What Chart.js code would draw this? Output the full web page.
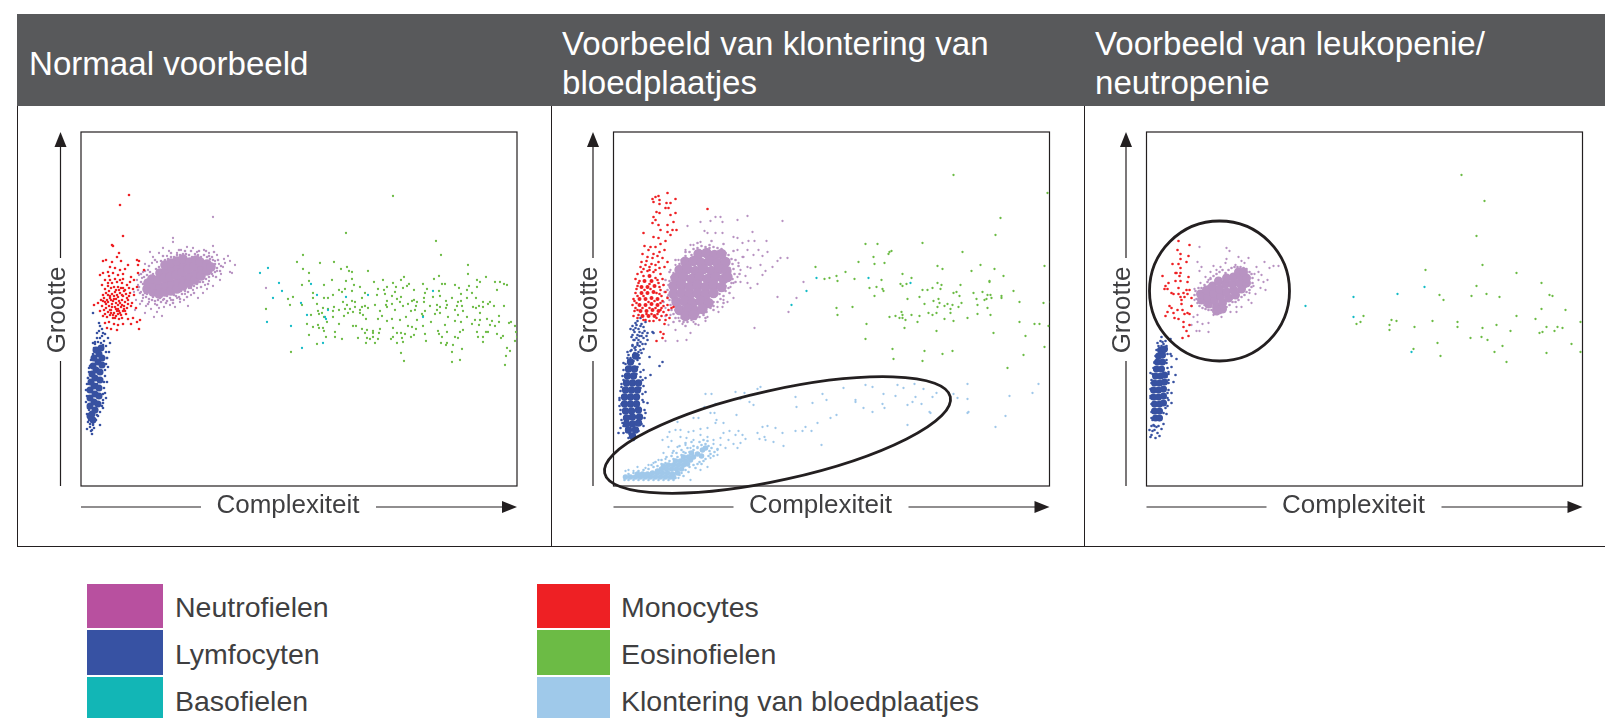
<!DOCTYPE html>
<html lang="nl">
<head>
<meta charset="utf-8">
<title>Voorbeelden scatterplots</title>
<script src="https://cdn.jsdelivr.net/npm/chart.js@4/dist/chart.umd.min.js"></script>
<style>
html, body { margin: 0; padding: 0; background: #fff; width: 1605px; height: 718px; overflow: hidden; font-family: "Liberation Sans", Arial, sans-serif; }
canvas { position: absolute; top: 107px; }
#header { position: absolute; left: 17px; top: 14px; width: 1588px; height: 92px; background: #58595b; }
.title { position: absolute; color: #fff; font-size: 33.1px; line-height: 39px; top: 3px; height: 92px; display: flex; align-items: center; }
#frame { position: absolute; left: 17px; top: 106px; width: 1588px; height: 440px; border-left: 1px solid #231f20; border-bottom: 1px solid #231f20; box-sizing: content-box; }
.sep { position: absolute; top: 106px; height: 441px; width: 1px; background: #231f20; }
.swatch { position: absolute; }
.legendText { position: absolute; color: #3f3f41; font-size: 28.5px; line-height: 32px; white-space: nowrap; }
</style>
</head>
<body>
<div id="header"></div>
<div id="frame"></div>
<div class="sep" style="left:551px"></div>
<div class="sep" style="left:1084px"></div>
<canvas id="chart1" width="532" height="439" style="left:18px"></canvas>
<canvas id="chart2" width="532" height="439" style="left:552px"></canvas>
<canvas id="chart3" width="520" height="439" style="left:1085px"></canvas>
<div id="legend"></div>
<script>
// Labels
const panelTitles = ["Normaal voorbeeld", "Voorbeeld van klontering van<br>bloedplaatjes", "Voorbeeld van leukopenie/<br>neutropenie"];
const xLabel = "Complexiteit";
const yLabel = "Grootte";
const legendNames = ["Neutrofielen", "Lymfocyten", "Basofielen", "Monocytes", "Eosinofielen", "Klontering van bloedplaatjes"];

// Normaal voorbeeld
const n1NeutroCore = [[66,197],[67,203],[72,194],[73,201],[71,207],[78,192],[79,199],[77,206],[79,213],[84,194],[85,201],[83,208],[85,215],[84,221],[90,195],[91,202],[89,209],[91,216],[90,223],[96,197],[97,204],[95,211],[97,218],[96,225],[102,200],[103,207],[101,214],[103,220],[102,227],[108,203],[109,210],[107,217],[109,224],[114,206],[115,213],[113,220],[115,226],[120,210],[121,217],[119,224],[126,215],[126,222],[130,219]];
const n1NeutroFill = [[60,204],[63,209],[66,211],[69,214],[72,212],[75,217],[78,219],[81,221],[80,225],[84,226],[87,227],[90,229],[93,229],[96,231],[99,231],[102,232],[105,232],[108,231],[111,229],[114,232],[117,231],[120,229],[123,231],[126,229],[129,227],[132,226],[131,229],[134,222],[128,230],[118,235],[104,235],[94,227],[86,224],[76,213],[68,209],[62,202],[62,191],[65,189],[68,187],[71,186],[74,185],[77,186],[80,184],[83,187],[86,185],[89,188],[92,186],[95,190],[98,189],[101,192],[104,195],[107,194],[110,198],[113,200],[116,202],[119,204],[122,204],[125,207],[128,209],[131,212],[134,214],[136,218],[64,193],[66,192],[72,189],[79,188],[86,190],[93,191],[100,195],[108,198],[116,206],[123,211],[130,214],[58,199],[59,193],[57,196],[61,185],[67,182],[76,181],[85,183],[92,183],[99,187],[106,189],[113,193],[120,199],[127,202],[135,209],[139,215],[140,220],[137,226],[133,234],[125,235],[110,235],[98,236],[90,233],[82,230],[74,226],[68,220],[64,215],[60,212]];
const n1Neutro = [[132,269],[92,248],[92,244],[69,234],[78,233],[82,238],[106,239],[112,238],[123,236],[132,240],[147,230],[149,225],[154,221],[144,223],[142,219],[149,214],[151,213],[139,206],[132,200],[122,193],[117,188],[107,180],[99,184],[89,181],[83,179],[81,170],[73,169],[76,174],[64,173],[59,182],[54,176],[55,186],[53,194],[57,201],[61,208],[62,214],[67,216],[71,223],[76,224],[86,230],[96,233],[100,236],[116,234],[128,233],[136,231],[134,225],[138,222],[136,215],[132,210],[128,205],[124,201],[116,198],[112,196],[104,192],[96,188],[90,186],[82,186],[74,182],[68,184],[62,188],[60,194],[65,180],[70,177],[78,178],[94,179],[103,186],[110,191],[126,197],[140,212],[143,227],[88,235],[72,229],[64,222],[58,211],[56,206],[185,198]];
const n1LymphCore = [[12,66],[9,70],[11,72],[14,76],[9,80],[13,84],[17,82],[9,88],[14,92],[18,90],[9,96],[13,100],[18,98],[10,104],[14,108],[19,106],[11,112],[15,116],[19,114],[12,120],[17,124],[21,121],[13,128],[18,132],[21,128],[15,136],[20,138]];
const n1LymphFill = [[6,72],[7,78],[5,84],[6,90],[5,96],[6,102],[7,108],[8,114],[9,120],[10,126],[12,132],[13,138],[14,142],[25,140],[25,134],[26,128],[25,122],[24,116],[24,110],[23,104],[23,98],[22,92],[22,86],[21,80],[19,74],[17,70],[15,66],[12,62],[9,62],[8,66],[13,58],[10,55],[16,76],[12,92],[16,102],[8,102],[17,144],[20,143],[23,145],[16,148],[21,150],[24,152],[18,155]];
const n1Lymph = [[18,163],[12,173],[19,160],[21,157],[16,153],[22,153],[27,148],[29,143],[14,144],[19,148],[22,141],[12,143],[28,134],[26,128],[27,119],[26,104],[24,93],[25,88],[22,78],[19,61],[11,52],[6,57],[9,59],[7,64],[12,61],[11,56],[6,96],[7,108],[8,118],[12,126],[14,134],[22,83],[16,71],[8,76],[10,68]];
const n1Mono = [[48,291],[39,281],[42,250],[31,241],[32,240],[38,233],[36,229],[22,225],[25,226],[31,224],[40,225],[56,226],[58,225],[57,221],[47,221],[29,219],[34,218],[39,216],[44,217],[57,213],[63,216],[19,211],[22,213],[27,214],[32,213],[37,211],[42,212],[50,209],[21,201],[24,206],[29,206],[34,207],[39,206],[46,201],[28,210],[36,204],[41,203],[49,204],[53,206],[24,197],[27,200],[31,203],[33,199],[37,199],[40,198],[44,196],[48,198],[52,197],[56,199],[22,191],[25,193],[28,195],[31,192],[34,194],[36,191],[39,193],[42,190],[45,192],[48,190],[53,191],[20,186],[23,188],[26,186],[29,188],[32,185],[35,187],[38,185],[41,186],[44,184],[47,186],[51,183],[13,181],[17,183],[21,180],[25,182],[28,180],[31,182],[34,179],[37,181],[40,179],[43,180],[46,178],[50,180],[55,178],[19,175],[23,176],[27,174],[30,176],[33,173],[36,175],[39,173],[42,175],[45,172],[22,170],[26,169],[29,171],[32,168],[35,170],[38,167],[41,168],[47,167],[52,168],[56,164],[59,166],[24,163],[28,164],[33,162],[37,161],[42,162],[50,162],[26,158],[30,157],[36,156],[58,157],[34,168],[30,186],[27,191],[37,177],[33,190],[43,195],[24,172],[30,198],[35,196],[38,196],[42,198],[29,190],[33,187],[37,189],[41,191],[46,188],[27,184],[31,179],[35,183],[39,183],[43,177],[47,182],[29,176],[35,177],[38,175],[41,181],[32,171],[37,172],[40,171],[44,175],[30,173],[25,178],[49,193],[24,184],[22,185],[27,203],[42,207]];
const n1Eos = [[312,290],[265,253],[355,245],[360,231],[222,231],[216,224],[239,223],[253,224],[222,217],[228,213],[260,217],[266,219],[268,215],[271,214],[287,215],[387,221],[387,212],[323,209],[320,206],[302,206],[293,204],[271,207],[265,205],[251,206],[228,205],[221,201],[243,201],[312,203],[328,202],[342,202],[353,207],[358,210],[361,202],[364,202],[374,201],[378,198],[388,200],[396,206],[405,209],[399,204],[414,204],[419,204],[423,202],[426,201],[416,196],[396,199],[386,196],[380,192],[391,193],[395,188],[402,184],[409,184],[413,180],[423,180],[407,182],
[258,196],[261,194],[264,197],[271,195],[273,201],[279,199],[284,193],[297,197],[296,191],[303,196],[306,199],[304,192],[314,194],[315,199],[322,198],[326,200],[333,196],[344,193],[346,197],[358,195],[359,190],[352,189],[343,188],[320,189],[311,190],[232,193],[212,189],[207,187],[209,181],[221,181],[232,188],[236,182],[243,188],[247,188],[252,191],
[262,184],[271,185],[274,184],[281,188],[306,185],[305,181],[316,187],[319,184],[311,182],[322,180],[327,182],[331,185],[333,186],[336,184],[335,180],[343,184],[349,180],[356,181],[359,179],[365,185],[366,181],[371,188],[377,184],[376,180],[380,185],[381,180],[386,188],[392,179],[395,178],[398,180],[402,179],[399,173],[382,175],[374,176],[365,178],[356,176],[359,173],[344,175],[334,176],[330,175],[314,176],[306,179],[299,175],[294,181],[287,178],[284,180],[281,179],[279,176],[274,179],[269,177],[266,181],[264,177],[258,176],[253,179],[252,175],[247,177],[242,178],[241,173],[237,175],[238,172],
[230,171],[243,169],[246,164],[252,169],[258,162],[263,170],[267,173],[272,174],[279,173],[285,167],[282,171],[297,167],[301,170],[306,165],[311,167],[319,166],[325,169],[336,166],[341,172],[342,170],[350,164],[354,172],[364,161],[367,169],[374,165],[377,171],[386,169],[380,164],[394,166],[399,166],[406,167],[411,165],[418,170],[418,164],[391,162],[398,161],[409,161],[414,160],[430,164],[428,163],[434,160],
[226,162],[232,159],[237,161],[238,158],[242,158],[243,155],[228,151],[245,149],[254,154],[254,149],[261,147],[236,142],[272,160],[275,160],[281,157],[286,156],[284,153],[292,155],[292,153],[299,157],[298,153],[277,148],[286,148],[289,147],[292,149],[297,147],[285,143],[294,143],[310,147],[312,149],[316,153],[312,158],[320,153],[324,152],[321,148],[322,144],[316,143],[330,149],[333,151],[327,160],[331,159],[335,157],[342,160],[344,152],[345,145],[357,155],[358,152],[361,149],[360,143],[365,141],[366,143],[372,141],[366,154],[374,149],[377,148],[379,154],[382,156],[396,154],[397,149],[402,149],[402,144],[405,154],[407,154],[416,152],[420,148],[422,150],[434,145],[435,154],[436,149],
[210,134],[320,133],[323,125],[371,134],[381,137],[371,124],[379,126],[426,138],[429,135],[425,130],[424,121],[185,177]];
const n1Baso = [[187,218],[179,213],[198,203],[201,195],[192,188],[230,202],[236,191],[220,183],[226,171],[244,169],[245,167],[247,176],[186,164],[210,160],[221,138],[242,143],[265,189],[287,191],[352,195],[342,169]];

// Voorbeeld van klontering van bloedplaatjes
const n2NeutroCore = [[85,232],[93,233],[101,231],[108,232],[72,224],[80,225],[88,223],[96,225],[104,223],[112,224],[66,216],[74,217],[82,215],[90,217],[98,215],[106,217],[113,215],[62,208],[70,209],[78,207],[86,209],[94,207],[102,209],[110,207],[114,209],[60,200],[68,201],[76,199],[84,201],[92,199],[100,201],[108,199],[60,192],[68,193],[76,191],[84,193],[92,191],[100,193],[63,184],[71,185],[79,183],[87,185],[95,183],[66,176],[74,177],[82,175],[89,177],[72,170],[80,171]];
const n2NeutroFill = [[58,209],[60,213],[63,218],[66,222],[69,227],[72,230],[76,234],[80,237],[84,238],[88,240],[92,239],[96,241],[100,239],[104,238],[108,237],[112,233],[115,231],[118,227],[119,222],[120,217],[121,212],[119,207],[118,203],[115,198],[112,195],[110,190],[107,187],[104,184],[100,180],[97,178],[93,174],[90,171],[86,169],[82,167],[78,166],[74,164],[70,164],[66,165],[62,168],[60,172],[58,176],[57,181],[56,186],[55,191],[54,196],[55,201],[56,205],[68,226],[64,212],[61,205],[58,195],[59,186],[62,176],[68,168],[76,169],[84,171],[92,178],[100,184],[106,192],[112,200],[116,208],[116,218],[112,228],[105,235],[96,238],[86,236],[78,231],[70,222],[122,226],[125,220],[126,212],[122,204],[116,193],[110,183],[100,176],[92,168],[82,162],[72,160],[60,164],[52,170],[50,184],[51,194],[52,206],[56,214],[62,226],[72,234],[84,243],[98,245],[110,242],[120,235]];
const n2Neutro = [[134,270],[169,265],[124,266],[107,269],[102,269],[97,265],[87,264],[109,264],[74,260],[91,255],[94,253],[102,253],[109,253],[139,254],[120,249],[124,248],[129,243],[135,245],[141,245],[153,245],[145,236],[154,234],[140,231],[149,230],[167,228],[174,228],[164,225],[147,221],[159,219],[152,215],[149,211],[137,218],[134,219],[129,229],[125,223],[132,210],[127,204],[134,203],[144,202],[137,198],[190,204],[183,188],[164,189],[175,174],[141,158],[120,188],[114,184],[105,174],[109,179],[94,169],[85,161],[77,153],[73,146],[64,145],[52,145],[62,156],[69,162],[55,161],[57,171],[52,178],[54,189],[50,201],[57,216],[65,226],[70,228],[80,241],[87,244],[124,236],[127,216],[117,199],[124,209],[110,186],[92,165],[65,168],[77,241],[72,236],[62,221],[134,236],[130,229],[120,203],[104,179],[80,164]];
const n2LymphCore = [[19,50],[15,56],[22,56],[13,62],[19,62],[25,63],[13,68],[19,69],[26,69],[12,75],[18,75],[25,76],[11,82],[17,82],[23,82],[11,89],[17,89],[23,89],[12,96],[18,96],[24,96],[13,103],[19,103],[25,103],[14,110],[20,110],[15,117],[21,117],[17,124],[22,130]];
const n2LymphFill = [[7,58],[8,66],[7,72],[6,80],[6,88],[7,95],[8,102],[9,110],[10,116],[12,122],[14,128],[14,134],[30,60],[31,68],[31,76],[30,84],[29,92],[30,100],[29,106],[27,114],[26,122],[26,128],[17,135],[21,133],[25,134],[28,133],[19,140],[22,139],[26,140],[21,146],[27,144],[32,142],[23,148],[28,150],[33,150],[18,149],[21,154],[26,154],[31,155],[19,160],[23,161],[28,162],[17,128],[21,138],[24,128],[16,52],[20,46],[13,54],[25,55],[28,62],[10,60],[8,82],[27,98],[13,112],[23,112]];
const n2Lymph = [[22,163],[27,168],[32,164],[17,157],[20,156],[25,157],[30,159],[39,154],[40,153],[19,151],[24,151],[29,153],[34,153],[20,146],[25,146],[30,148],[34,146],[19,141],[24,141],[29,142],[18,136],[22,136],[27,136],[30,137],[15,131],[20,131],[25,131],[36,129],[15,126],[20,125],[24,126],[10,123],[30,116],[49,124],[46,120],[37,111],[32,108],[10,106],[8,99],[6,86],[32,94],[34,83],[32,73],[27,63],[9,63],[5,53],[10,53],[15,48],[22,49],[29,86],[7,76],[17,119],[24,119],[27,109],[24,143],[16,119],[26,150],[22,158],[27,160],[24,165]];
const n2MonoCore = [[36,210],[31,205],[38,205],[28,199],[34,199],[41,200],[28,193],[34,193],[40,194],[26,187],[32,187],[38,188],[44,187],[26,181],[32,181],[38,182],[44,181],[27,175],[33,175],[39,176],[45,175],[29,170],[35,170],[41,170]];
const n2Mono = [[54,293],[45,290],[42,289],[39,287],[40,284],[46,286],[62,287],[53,283],[57,283],[55,278],[52,278],[46,282],[62,273],[43,274],[46,273],[40,269],[57,271],[42,266],[60,264],[54,261],[45,261],[39,263],[47,256],[59,256],[63,256],[54,254],[30,253],[40,249],[45,248],[52,245],[57,251],[94,277],[37,239],[47,242],[42,239],[51,236],[29,232],[34,229],[39,228],[44,230],[49,228],[54,224],[32,221],[27,219],[36,219],[42,221],[46,218],[51,219],[24,212],[28,214],[34,215],[40,214],[47,212],[22,207],[26,205],[44,206],[49,207],[24,200],[46,199],[50,201],[22,193],[46,192],[52,194],[20,187],[49,185],[54,188],[19,181],[50,180],[54,181],[58,178],[21,175],[50,174],[55,176],[20,170],[24,168],[48,170],[53,171],[60,179],[32,166],[40,165],[46,166],[52,166],[56,168],[51,162],[47,154],[50,152],[43,145],[49,148],[23,197],[25,203],[30,210],[42,208],[45,203],[47,196],[48,190],[23,183],[22,178],[25,171],[30,166],[36,165],[43,168],[48,178],[36,202],[31,196],[37,197],[43,193],[30,190],[35,184],[41,185],[29,178],[36,178],[42,178],[33,172],[38,172],[44,172],[24,190],[47,183],[21,185],[24,176],[47,176],[36,216],[30,217],[42,216],[38,222],[33,225],[28,224],[45,224],[40,232],[46,234],[35,236],[31,240]];
const n2Eos = [[340,311],[434,293],[387,268],[382,251],[252,242],[264,242],[309,243],[275,232],[276,234],[278,235],[349,234],[260,229],[245,224],[261,222],[271,223],[202,219],[324,220],[329,217],[367,221],[358,215],[381,217],[431,220],[232,214],[390,210],[223,210],[216,208],[211,207],[224,205],[241,207],[268,206],[289,212],[298,208],[287,202],[289,200],[293,202],[256,198],[263,199],[269,197],[270,195],[261,190],[324,203],[328,201],[319,198],[327,197],[309,196],[314,196],[347,201],[376,205],[376,204],[340,193],[343,194],[360,193],[369,194],[400,195],[346,190],[374,191],[377,191],[388,190],[388,188],[378,188],[373,187],[371,186],[363,187],[306,189],[294,187],[325,187],[320,185],[326,183],[348,183],[406,184],[430,183],[437,184],[311,182],[334,182],[339,181],[331,180],[324,179],[337,177],[345,179],[364,181],[374,178],[223,178],[239,179],[224,171],[288,174],[289,171],[282,170],[276,169],[286,168],[289,168],[292,166],[298,171],[306,170],[315,173],[319,171],[323,173],[337,173],[364,172],[377,171],[331,167],[340,165],[354,168],[304,164],[253,162],[291,158],[323,155],[406,164],[421,162],[426,162],[435,160],[380,153],[412,150],[252,147],[279,137],[311,135],[329,132],[339,135],[280,127],[309,125],[410,131],[431,139],[394,118]];
const n2Baso = [[203,208],[193,195],[178,181],[255,208],[297,203]];
const n2PlateletCore = [[12,9],[17,9],[22,9],[27,9],[32,9],[37,9],[42,9],[47,9],[52,9],[57,9],[60,9],[24,12],[29,12],[34,12],[39,13],[44,13],[49,13],[54,13],[59,12],[64,13],[44,15],[48,17],[53,17],[58,17],[63,17],[68,17],[50,20],[55,21],[60,21],[65,21],[70,21],[74,22],[62,25],[67,25],[72,25],[77,26],[70,29],[75,29],[80,29],[84,32],[78,33],[89,36],[88,30],[92,38]];
const n2PlateletFill = [[15,12],[20,13],[25,15],[30,16],[35,17],[40,19],[44,20],[48,22],[52,23],[56,25],[60,27],[64,29],[68,31],[72,33],[76,34],[80,36],[84,38],[88,41],[92,42],[95,40],[96,35],[97,32],[95,30],[92,27],[90,25],[86,24],[84,22],[80,21],[76,19],[72,16],[68,13],[66,11],[62,8],[60,6],[55,6],[50,6],[45,6],[40,6],[35,6],[30,6],[25,6],[20,6],[15,6],[11,6],[58,30],[63,33],[68,36],[74,38],[80,40],[86,44],[90,46],[94,45],[98,38],[101,34],[104,37],[100,30],[88,22],[82,18],[75,14],[70,10],[48,26],[53,29],[42,24],[38,21],[60,35],[66,40],[72,43],[78,44],[70,34]];
const n2Platelet = [[92,92],[98,92],[122,94],[131,93],[144,97],[147,99],[127,87],[136,84],[140,81],[102,82],[91,79],[97,73],[101,73],[123,71],[85,68],[80,68],[103,66],[102,63],[110,63],[64,64],[87,57],[94,58],[62,56],[56,54],[67,56],[75,54],[80,55],[110,53],[116,55],[125,55],[122,51],[129,51],[132,47],[49,46],[54,49],[58,45],[67,49],[73,48],[80,46],[87,51],[94,49],[100,46],[107,48],[115,46],[120,42],[127,43],[124,38],[107,41],[112,38],[104,36],[100,42],[55,39],[64,39],[72,41],[77,38],[84,39],[50,33],[59,33],[45,26],[52,27],[35,21],[24,19],[15,16],[20,15],[12,15],[32,18],[40,23],[97,28],[94,19],[104,31],[87,16],[77,6],[65,8],
[144,53],[149,59],[154,60],[162,58],[169,53],[146,47],[151,49],[152,46],[160,44],[170,40],[182,55],[189,55],[192,59],[198,55],[204,63],[217,68],[223,71],[208,41],[182,89],[183,79],[199,83],[209,92],[213,86],[230,98],[242,84],[242,86],[250,78],[259,74],[271,78],[269,82],[252,101],[259,99],[270,92],[284,101],[282,90],[290,98],[301,102],[310,97],[302,89],[299,84],[294,81],[308,82],[323,93],[319,89],[316,74],[294,61],[317,73],[340,92],[344,88],[354,87],[355,74],[354,102],[354,73],[382,59],[392,70],[396,90],[419,93],[425,102]];

// Voorbeeld van leukopenie/neutropenie
const n3NeutroCore = [[55,186],[62,182],[70,179],[54,192],[61,189],[68,186],[76,183],[60,196],[67,193],[74,190],[82,188],[89,191],[66,200],[73,197],[80,194],[87,196],[95,197],[72,205],[79,202],[86,202],[93,203],[100,203],[80,208],[87,209],[94,210],[100,208],[92,214],[97,214],[76,177],[70,175]];
const n3NeutroFill = [[50,187],[48,191],[49,195],[52,198],[55,198],[58,201],[61,204],[64,207],[67,210],[70,212],[73,214],[76,216],[79,213],[82,216],[85,218],[88,219],[91,219],[94,219],[97,218],[100,217],[103,214],[105,212],[106,208],[106,203],[105,199],[103,196],[100,194],[98,191],[95,189],[92,186],[89,184],[86,184],[83,181],[80,179],[77,177],[74,173],[71,172],[68,174],[65,176],[62,176],[59,177],[56,178],[53,180],[51,183],[58,181],[64,179],[70,182],[78,180],[85,187],[91,192],[99,199],[101,210],[90,215],[80,211],[70,207],[62,200],[56,195]];
const n3Neutro = [[53,239],[80,238],[83,235],[80,227],[92,229],[102,228],[95,225],[118,224],[127,220],[132,220],[123,218],[79,223],[51,224],[55,219],[53,215],[67,220],[74,219],[64,214],[59,209],[62,206],[110,219],[112,214],[108,212],[115,211],[121,206],[112,206],[117,204],[119,196],[114,198],[109,192],[105,183],[102,186],[95,179],[90,174],[84,174],[75,169],[67,171],[62,163],[56,162],[51,164],[45,161],[53,155],[50,155],[62,154],[47,169],[51,171],[45,180],[48,186],[48,197],[54,203],[59,199],[64,208],[70,216],[89,221],[98,223],[107,200],[103,193],[90,179]];
const n3LymphCore = [[9,68],[13,68],[8,75],[13,75],[8,82],[13,82],[17,83],[7,89],[12,89],[17,90],[7,96],[12,96],[17,97],[8,103],[13,103],[18,104],[9,110],[14,110],[18,111],[10,117],[15,117],[11,124],[16,124],[12,130],[16,131],[14,136],[18,137]];
const n3LymphFill = [[6,66],[5,74],[5,82],[4,90],[4,97],[5,106],[6,112],[7,118],[8,124],[9,130],[10,136],[12,140],[20,72],[21,80],[21,88],[22,96],[22,106],[22,112],[21,118],[20,126],[21,132],[20,140],[17,142],[14,145],[19,145],[17,62],[12,60],[8,60],[5,60],[6,55],[11,53],[9,48],[16,144]];
const n3Lymph = [[15,149],[11,143],[15,140],[24,147],[13,136],[18,134],[24,132],[25,130],[30,127],[10,124],[8,123],[20,123],[25,119],[8,116],[22,114],[29,111],[27,104],[22,103],[5,103],[25,93],[4,88],[22,86],[25,83],[19,78],[5,68],[3,56],[5,51],[8,56],[4,49],[13,50],[15,57],[10,59],[7,61],[13,66],[17,73],[21,93],[20,109],[4,113]];
const n3Mono = [[32,245],[43,241],[31,236],[34,232],[42,230],[34,227],[26,222],[32,222],[40,224],[34,218],[16,210],[29,213],[34,213],[30,213],[42,209],[33,210],[29,205],[22,203],[41,204],[34,205],[19,200],[18,197],[21,197],[32,198],[25,193],[27,192],[40,196],[43,196],[32,192],[37,193],[41,192],[45,188],[34,189],[38,189],[35,186],[23,180],[25,178],[35,182],[45,180],[21,174],[31,176],[36,176],[43,172],[19,170],[27,173],[38,172],[41,173],[28,168],[32,167],[37,164],[43,161],[37,159],[40,155],[42,150],[36,148]];
const n3Eos = [[315,311],[338,285],[330,250],[336,221],[279,216],[370,213],[395,203],[330,200],[293,191],[297,186],[325,190],[340,192],[353,189],[403,191],[406,190],[395,177],[419,176],[370,170],[389,167],[217,170],[214,164],[210,162],[245,166],[250,165],[243,161],[243,156],[268,159],[286,165],[311,164],[311,159],[336,158],[350,161],[364,155],[400,159],[411,159],[416,158],[408,155],[396,154],[393,153],[434,164],[324,148],[335,149],[341,146],[291,143],[267,137],[356,140],[425,142],[348,134],[434,134],[400,133],[294,130],[360,124]];
const n3Baso = [[159,180],[207,189],[207,169],[251,192],[278,199],[265,134]];

// Kleuren
const neutroColor = "#b893c2", lymphColor = "#3751a1", monoColor = "#ee2024", eosColor = "#6cbb45", basoColor = "#14bbc6", plateletColor = "#a0c8ea";
const legendColors = ["#b8509f", "#3752a3", "#12b6b6", "#ee2024", "#6cbb45", "#9fc9ea"];

// Set up titles in the dark header
const titleLefts = [12, 545, 1078];
titleLefts.forEach(function(left, i) {
    const el = document.createElement("div");
    el.className = "title";
    el.style.left = left + "px";
    el.innerHTML = "<span>" + panelTitles[i] + "</span>";
    document.getElementById("header").appendChild(el);
});

// Legend squares and names
const legend = document.getElementById("legend");
const legendRows = [583.5, 630, 677];
const legendTextRows = [591, 637.5, 685];
legendNames.forEach(function(name, i) {
    const second = i >= 3;
    const sw = document.createElement("div");
    sw.className = "swatch";
    sw.style.cssText = "left:" + (second ? 537 : 87) + "px;top:" + legendRows[i % 3] + "px;width:" + (second ? 73 : 76) + "px;height:44.5px;background:" + legendColors[i];
    legend.appendChild(sw);
    const tx = document.createElement("div");
    tx.className = "legendText";
    tx.style.left = (second ? 621 : 175) + "px";
    tx.style.top = legendTextRows[i % 3] + "px";
    tx.textContent = name;
    legend.appendChild(tx);
});

// Plot box, the two axis arrows and their labels, plus the black ring when a panel has one
const panelFrame = {
    id: "panelFrame",
    beforeDatasetsDraw(chart) {
        const ctx = chart.ctx, a = chart.chartArea;
        const arrowX = a.left - 20.5, arrowY = a.bottom + 21;
        ctx.save();
        ctx.strokeStyle = "#231f20";
        ctx.fillStyle = "#231f20";
        ctx.lineWidth = 1.2;
        ctx.strokeRect(a.left, a.top, a.right - a.left, a.bottom - a.top);

        // vertical arrow, broken around the label
        ctx.beginPath();
        ctx.moveTo(arrowX, a.bottom); ctx.lineTo(arrowX, 361 - 107);
        ctx.moveTo(arrowX, 258 - 107); ctx.lineTo(arrowX, a.top + 10);
        ctx.stroke();
        ctx.beginPath();
        ctx.moveTo(arrowX, a.top); ctx.lineTo(arrowX - 6, a.top + 15); ctx.lineTo(arrowX + 6, a.top + 15);
        ctx.closePath(); ctx.fill();

        // horizontal arrow, broken around the label
        ctx.beginPath();
        ctx.moveTo(a.left, arrowY); ctx.lineTo(a.left + 120, arrowY);
        ctx.moveTo(a.left + 295, arrowY); ctx.lineTo(a.right - 10, arrowY);
        ctx.stroke();
        ctx.beginPath();
        ctx.moveTo(a.right, arrowY); ctx.lineTo(a.right - 15, arrowY - 6); ctx.lineTo(a.right - 15, arrowY + 6);
        ctx.closePath(); ctx.fill();

        ctx.fillStyle = "#3f3f41";
        ctx.font = "26px 'Liberation Sans'";
        ctx.textAlign = "center";
        ctx.textBaseline = "middle";
        ctx.fillText(xLabel, a.left + 207, arrowY - 1);
        ctx.translate(arrowX - 3, (a.top + a.bottom) / 2 + 1);
        ctx.rotate(-Math.PI / 2);
        ctx.fillText(yLabel, 0, 0);
        ctx.restore();
    },
    afterDatasetsDraw(chart, args, opts) {
        if (!opts.ring) return;
        const ctx = chart.ctx, sx = chart.scales.x, sy = chart.scales.y, r = opts.ring;
        ctx.save();
        ctx.strokeStyle = "#231f20";
        ctx.lineWidth = 2.8;
        ctx.beginPath();
        ctx.ellipse(sx.getPixelForValue(r.x), sy.getPixelForValue(r.y),
            sx.getPixelForValue(r.rx) - sx.getPixelForValue(0),
            sy.getPixelForValue(0) - sy.getPixelForValue(r.ry),
            -r.angle * Math.PI / 180, 0, 2 * Math.PI);
        ctx.stroke();
        ctx.restore();
    }
};

function dots(name, data, color, radius) {
    return { label: name, data: data, backgroundColor: color, borderWidth: 0, pointRadius: radius, pointHoverRadius: radius };
}

function makeChart(id, paddingLeft, datasets, ring) {
    return new Chart(document.getElementById(id), {
        type: "scatter",
        data: { datasets: datasets },
        plugins: [panelFrame],
        options: {
            responsive: false,
            animation: false,
            events: [],
            layout: { padding: { left: paddingLeft, top: 25, right: document.getElementById(id).width - paddingLeft - 436, bottom: 60 } },
            plugins: { legend: { display: false }, tooltip: { enabled: false }, panelFrame: { ring: ring } },
            scales: {
                x: { display: false, type: "linear", min: 0, max: 436 },
                y: { display: false, type: "linear", min: 0, max: 354 }
            }
        }
    });
}

const dotSize = 1.15, fillSize = 1.3;

// First dataset ends up on top
makeChart("chart1", 63, [
    dots("Monocytes", n1Mono, monoColor, 1.3),
    dots("Lymfocyten", n1Lymph, lymphColor, fillSize),
    dots("Lymfocyten", n1LymphFill, lymphColor, fillSize),
    dots("Lymfocyten", n1LymphCore, lymphColor, 3.5),
    dots("Basofielen", n1Baso, basoColor, dotSize),
    dots("Eosinofielen", n1Eos, eosColor, dotSize),
    dots("Neutrofielen", n1Neutro, neutroColor, dotSize),
    dots("Neutrofielen", n1NeutroFill, neutroColor, fillSize),
    dots("Neutrofielen", n1NeutroCore, neutroColor, 4.8)
], null);

makeChart("chart2", 61.5, [
    dots("Monocytes", n2Mono, monoColor, 1.3),
    dots("Monocytes", n2MonoCore, monoColor, 2),
    dots("Lymfocyten", n2Lymph, lymphColor, fillSize),
    dots("Lymfocyten", n2LymphFill, lymphColor, fillSize),
    dots("Lymfocyten", n2LymphCore, lymphColor, 3.7),
    dots("Klontering van bloedplaatjes", n2Platelet, plateletColor, dotSize),
    dots("Klontering van bloedplaatjes", n2PlateletFill, plateletColor, fillSize),
    dots("Klontering van bloedplaatjes", n2PlateletCore, plateletColor, 2.8),
    dots("Basofielen", n2Baso, basoColor, dotSize),
    dots("Eosinofielen", n2Eos, eosColor, dotSize),
    dots("Neutrofielen", n2Neutro, neutroColor, dotSize),
    dots("Neutrofielen", n2NeutroFill, neutroColor, fillSize),
    dots("Neutrofielen", n2NeutroCore, neutroColor, 5.2)
], { x: 164, y: 51, rx: 177, ry: 45, angle: 12.5 });

makeChart("chart3", 61.5, [
    dots("Monocytes", n3Mono, monoColor, 1.3),
    dots("Lymfocyten", n3Lymph, lymphColor, fillSize),
    dots("Lymfocyten", n3LymphFill, lymphColor, fillSize),
    dots("Lymfocyten", n3LymphCore, lymphColor, 3.5),
    dots("Basofielen", n3Baso, basoColor, dotSize),
    dots("Eosinofielen", n3Eos, eosColor, dotSize),
    dots("Neutrofielen", n3Neutro, neutroColor, dotSize),
    dots("Neutrofielen", n3NeutroFill, neutroColor, fillSize),
    dots("Neutrofielen", n3NeutroCore, neutroColor, 4.5)
], { x: 73, y: 195, rx: 70, ry: 70, angle: 0 });
</script>
</body>
</html>
